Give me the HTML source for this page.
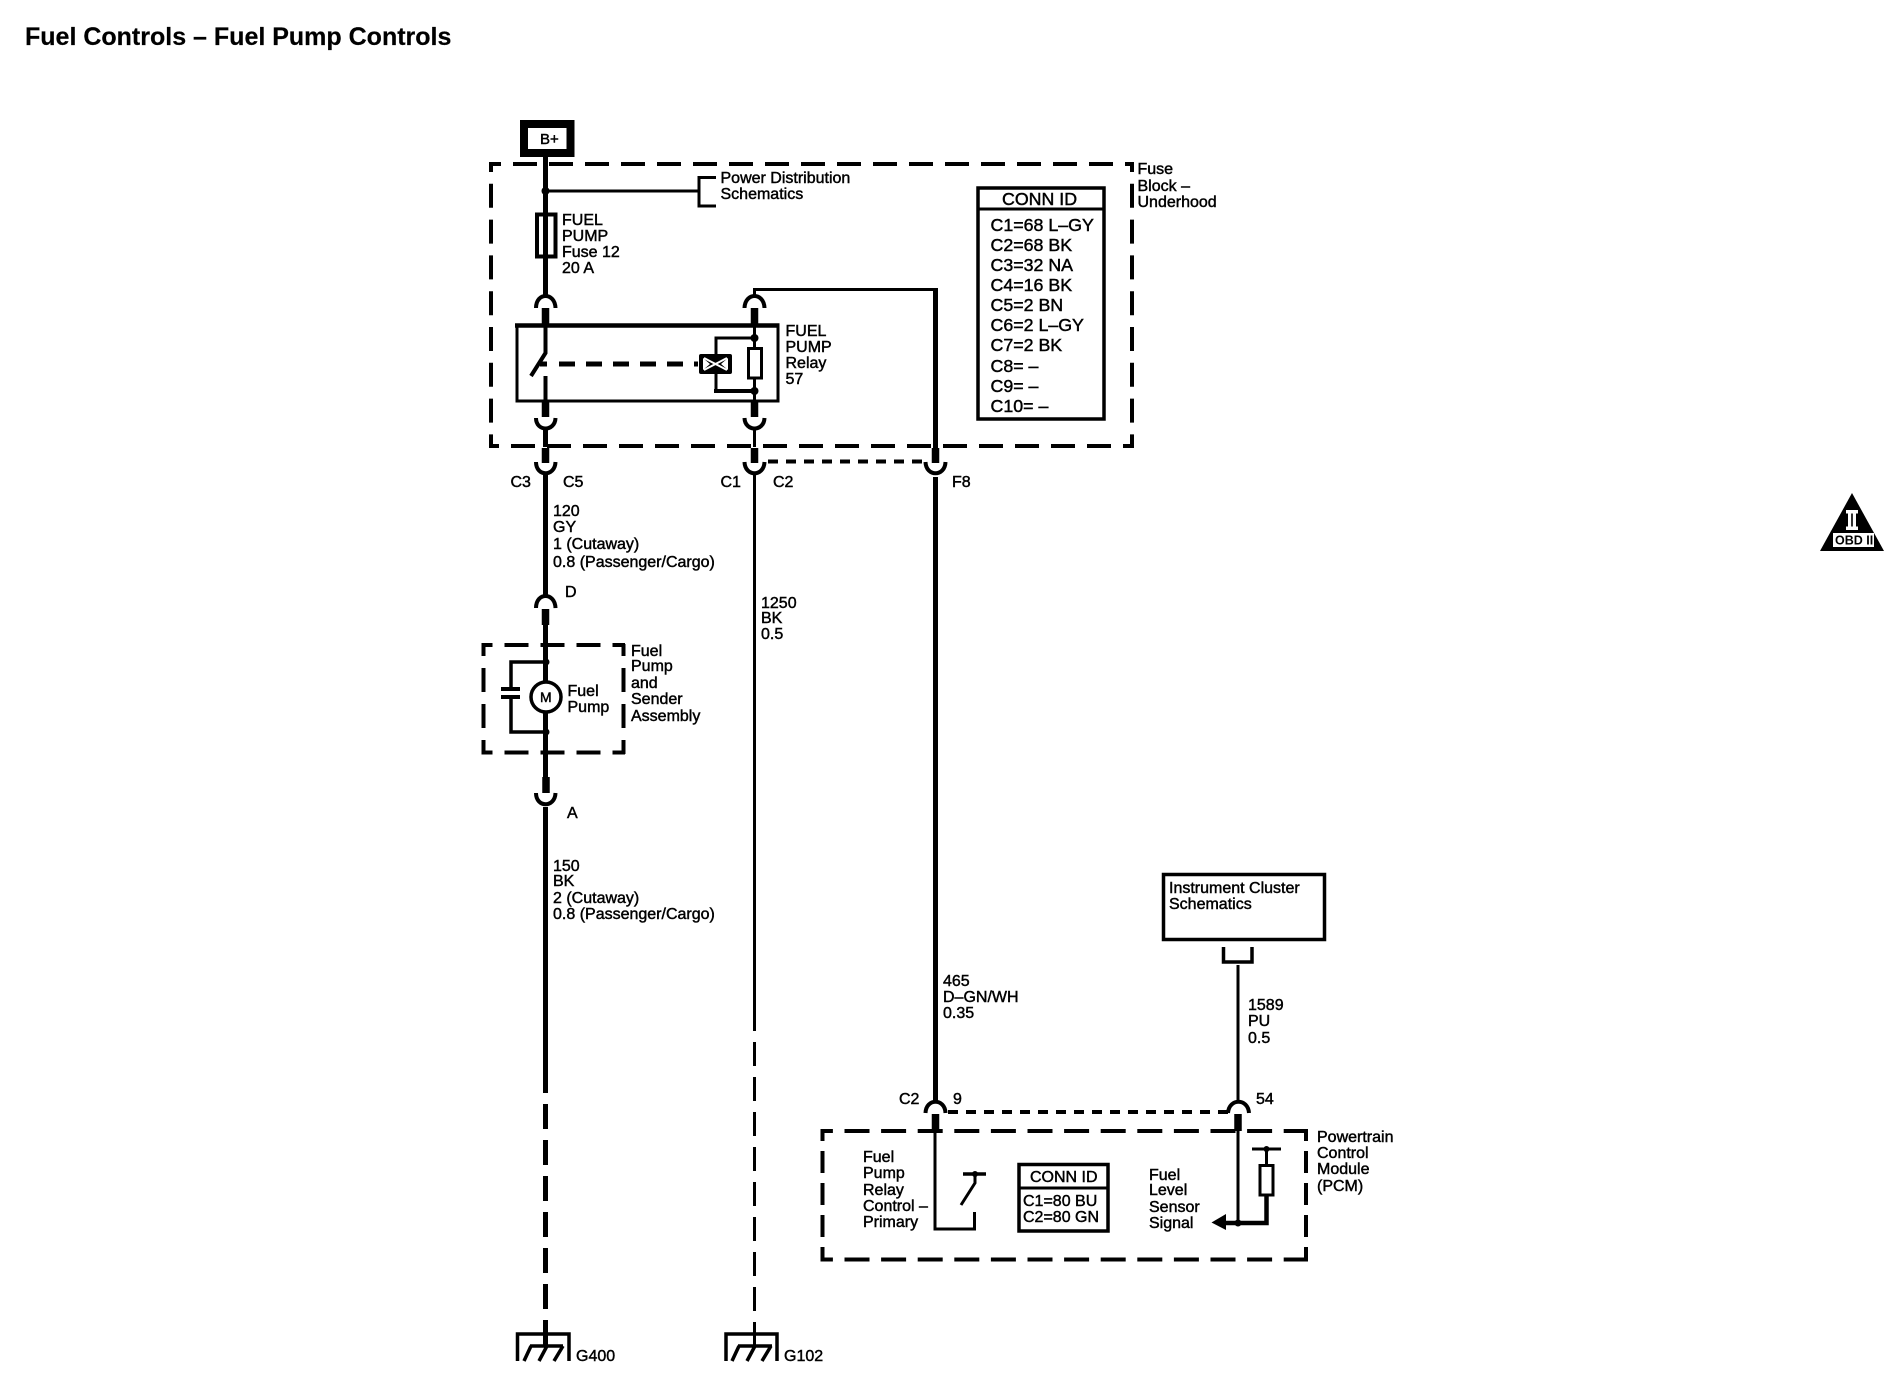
<!DOCTYPE html>
<html><head><meta charset="utf-8"><title>Fuel Controls</title>
<style>
html,body{margin:0;padding:0;background:#fff;width:1900px;height:1392px;overflow:hidden}
svg{display:block}
text{font-family:"Liberation Sans",sans-serif;font-size:16px;fill:#000;stroke:#000;stroke-width:.45}
.b{font-size:17.8px}
.w,.t,.s,.a,.d,.d2{fill:none;stroke:#000}
.w{stroke-width:5}.t{stroke-width:3}.s{stroke-width:7.5}.a{stroke-width:4}
.d{stroke-width:4}
.d2{stroke-width:4;stroke-dasharray:10 8}
</style></head><body>
<svg width="1900" height="1392" viewBox="0 0 1900 1392" xmlns="http://www.w3.org/2000/svg">
<text x="25" y="45" style="font-size:25px;font-weight:bold;stroke-width:.2">Fuel Controls – Fuel Pump Controls</text>

<!-- B+ -->
<rect x="524" y="124" width="46.5" height="29" fill="none" stroke="#000" stroke-width="8"/>
<text x="540" y="144" style="font-size:15px">B+</text>

<!-- fuse block -->
<path class="d" stroke-dasharray="24 12" stroke-dashoffset="12" d="M489 164H1134"/>
<path class="d" stroke-dasharray="24 12" stroke-dashoffset="14" d="M489 446H1134"/>
<path class="d" stroke-dasharray="24 11.8" stroke-dashoffset="14" d="M491 162V448"/>
<path class="d" stroke-dasharray="24 11.8" stroke-dashoffset="14" d="M1132 162V448"/>
<text x="1137.5" y="174">Fuse</text><text x="1137.5" y="191">Block –</text><text x="1137.5" y="207">Underhood</text>

<path class="w" d="M545.5 157V297"/>
<circle cx="545.5" cy="191" r="4"/>
<path class="t" d="M546 191H699M716 177.5H699V206H716"/>
<text x="720.5" y="183">Power Distribution</text><text x="720.5" y="199">Schematics</text>
<rect x="537" y="214.5" width="18.5" height="42" fill="#fff" stroke="#000" stroke-width="4"/>
<path class="w" d="M545.5 214V257"/>
<text x="562" y="225">FUEL</text><text x="562" y="241">PUMP</text><text x="562" y="257">Fuse 12</text><text x="562" y="273">20 A</text>

<!-- connectors fuse block top -->
<path class="a" d="M536 308C536 292 555 292 555.5 308"/>
<path class="a" d="M744.5 308C745 292 764 292 764.5 308"/>
<path class="s" d="M545.5 308V326M754.5 308V326"/>
<path class="t" d="M754.5 297V289.5H935.5"/>
<path class="w" d="M935.5 288V460"/>

<!-- relay -->
<path fill="none" stroke="#000" stroke-width="3" d="M517 326V401H778V326"/>
<path fill="none" stroke="#000" stroke-width="4.5" d="M515 325.5H779.5"/>
<path fill="none" stroke="#000" stroke-width="4" d="M545.5 326V353L531 376M545.5 376V402"/>
<path class="t" d="M754.5 326V402"/>
<path fill="none" stroke="#000" stroke-width="5" stroke-dasharray="16 11" d="M559 364H698"/>
<path fill="none" stroke="#000" stroke-width="5" d="M540 364H547"/>
<rect x="699" y="354" width="33" height="20" rx="2" fill="#000"/>
<path fill="none" stroke="#fff" stroke-width="2" d="M704 358L727 370M727 358L704 370"/>
<path fill="#fff" d="M703 358L710 364L703 370ZM728 358L721 364L728 370Z"/>
<path class="t" d="M716 354V338H754M716 374V391"/>
<path fill="none" stroke="#000" stroke-width="4" d="M714 391H754"/>
<circle cx="754.5" cy="338" r="4"/><circle cx="754.5" cy="391" r="4"/>
<rect x="748.5" y="348.5" width="13" height="29.5" fill="#fff" stroke="#000" stroke-width="3"/>
<text x="785.5" y="336">FUEL</text><text x="785.5" y="352">PUMP</text><text x="785.5" y="368">Relay</text><text x="785.5" y="384">57</text>

<!-- lower connectors fuse block -->
<path class="s" d="M545.5 402V417M754.5 402V417"/>
<path class="a" d="M536 418C536 432 555 432 555.5 418"/>
<path class="a" d="M744.5 418C745 432 764 432 764.5 418"/>
<path class="w" d="M545.5 428V447"/>
<path class="t" d="M754.5 428V447"/>
<path class="s" d="M545.5 448V463M754.5 448V463M935.5 448V463"/>
<path class="a" d="M536 462C536 477 555 477 555.5 462"/>
<path class="a" d="M744.5 462C745 477 764 477 764.5 462"/>
<path class="a" d="M925.5 462C926 477 945 477 945.5 462"/>
<path class="d2" d="M768 461.5H922"/>
<text x="510.5" y="487">C3</text><text x="563" y="487">C5</text>
<text x="720.5" y="487">C1</text><text x="773" y="487">C2</text><text x="952" y="487">F8</text>

<!-- CONN ID -->
<rect x="978" y="188" width="126" height="231" fill="#fff" stroke="#000" stroke-width="3.5"/>
<path class="t" d="M978 209H1104"/>
<text class="b" x="1002" y="205">CONN ID</text>
<text class="b" x="990.5" y="231">C1=68 L–GY</text>
<text class="b" x="990.5" y="251">C2=68 BK</text>
<text class="b" x="990.5" y="271">C3=32 NA</text>
<text class="b" x="990.5" y="291">C4=16 BK</text>
<text class="b" x="990.5" y="311">C5=2 BN</text>
<text class="b" x="990.5" y="331">C6=2 L–GY</text>
<text class="b" x="990.5" y="351">C7=2 BK</text>
<text class="b" x="990.5" y="372">C8= –</text>
<text class="b" x="990.5" y="392">C9= –</text>
<text class="b" x="990.5" y="412">C10= –</text>

<!-- wire 1 -->
<path class="w" d="M545.5 473V598"/>
<text x="553" y="516">120</text><text x="553" y="532">GY</text><text x="553" y="549">1 (Cutaway)</text><text x="553" y="567">0.8 (Passenger/Cargo)</text>
<text x="565" y="597">D</text>
<path class="a" d="M536 608C536 592 555 592 555.5 608"/>
<path class="s" d="M545.5 609V625"/>
<path class="w" d="M545.5 625V681M545.5 713V777"/>

<!-- pump assembly -->
<path class="d" stroke-dasharray="24 12" stroke-dashoffset="13" d="M481.5 645H625M481.5 752.5H625"/>
<path class="d" stroke-dasharray="24 12" stroke-dashoffset="12" d="M483.5 644V754M623.5 644V754"/>
<path fill="none" stroke="#000" stroke-width="3.5" d="M546 662H511V689M511 697V732H546"/>
<path fill="none" stroke="#000" stroke-width="4" d="M501 689H520M501 697H520"/>
<circle cx="546" cy="662" r="3.5"/><circle cx="546" cy="732" r="3.5"/>
<circle cx="546" cy="697" r="15" fill="#fff" stroke="#000" stroke-width="3.5"/>
<text x="540" y="702" style="font-size:14px">M</text>
<text x="567.5" y="696">Fuel</text><text x="567.5" y="712">Pump</text>
<text x="631" y="656">Fuel</text><text x="631" y="671">Pump</text><text x="631" y="688">and</text><text x="631" y="704">Sender</text><text x="631" y="721">Assembly</text>

<path class="s" d="M546 777V793"/>
<path class="a" d="M536 793C536 808 555 808 555.5 793"/>
<text x="567" y="818">A</text>
<path class="w" d="M545.5 807V1093"/>
<path class="w" stroke-dasharray="25 11" d="M545.5 1104V1350"/>
<text x="553" y="871">150</text><text x="553" y="886">BK</text><text x="553" y="903">2 (Cutaway)</text><text x="553" y="919">0.8 (Passenger/Cargo)</text>

<!-- wire 2 -->
<path class="t" d="M754.5 473V1031"/>
<path class="t" stroke-dasharray="24 11" d="M754.5 1042V1350"/>
<text x="761" y="608">1250</text><text x="761" y="623">BK</text><text x="761" y="639">0.5</text>

<!-- grounds -->
<g fill="none" stroke="#000">
<path stroke-width="3.5" d="M517.5 1361V1334H569V1361"/>
<path stroke-width="3.5" d="M530 1346H563M531 1346L524 1361M547 1346L539 1361M563 1346L554 1361"/>
<path stroke-width="3.5" d="M726 1361V1334H777V1361"/>
<path stroke-width="3.5" d="M738 1346H772M739 1346L732 1361M755 1346L747 1361M771 1346L762 1361"/>
</g>
<text x="576" y="1361" style="font-size:16px">G400</text><text x="784" y="1361" style="font-size:16px">G102</text>

<!-- wire 3 -->
<path class="w" d="M935.5 477V1102"/>
<text x="943" y="986">465</text><text x="943" y="1002">D–GN/WH</text><text x="943" y="1018">0.35</text>

<!-- instrument cluster -->
<rect x="1163.5" y="874.5" width="161" height="65" fill="#fff" stroke="#000" stroke-width="3.5"/>
<text x="1169" y="893">Instrument Cluster</text><text x="1169" y="909">Schematics</text>
<path fill="none" stroke="#000" stroke-width="3.5" d="M1223.5 947V962H1252V947"/>
<path class="t" d="M1238 965V1103"/>
<text x="1248" y="1010">1589</text><text x="1248" y="1026">PU</text><text x="1248" y="1043">0.5</text>

<!-- PCM connectors -->
<text x="899" y="1104">C2</text><text x="953" y="1104">9</text><text x="1256" y="1104">54</text>
<path class="a" d="M925.5 1113C926 1098 945 1098 945.5 1113"/>
<path class="a" d="M1228 1113C1229 1098 1248 1098 1249 1113"/>
<path class="d2" d="M948 1112H1228"/>
<path class="s" d="M935.5 1114V1131M1238 1114V1131"/>

<!-- PCM -->
<path class="d" stroke-dasharray="25 11.6" stroke-dashoffset="12.6" d="M820.5 1131H1308M820.5 1259.5H1308"/>
<path class="d" stroke-dasharray="22 10" stroke-dashoffset="10" d="M822.5 1129V1261M1306 1129V1261"/>
<path class="t" d="M935 1131V1229H974.5V1212"/>
<path class="t" d="M975 1174V1183L961 1205"/>
<path style="stroke-width:3.5" class="w" d="M963 1174H986"/>
<circle cx="975" cy="1174" r="3"/>
<text x="863" y="1162">Fuel</text><text x="863" y="1178">Pump</text><text x="863" y="1195">Relay</text><text x="863" y="1211">Control –</text><text x="863" y="1227">Primary</text>
<rect x="1019" y="1164.5" width="89" height="66.5" fill="#fff" stroke="#000" stroke-width="3.5"/>
<path class="t" d="M1019 1188H1108"/>
<text x="1030" y="1182">CONN ID</text>
<text x="1023" y="1206">C1=80 BU</text><text x="1023" y="1222">C2=80 GN</text>
<text x="1149" y="1180">Fuel</text><text x="1149" y="1195">Level</text><text x="1149" y="1212">Sensor</text><text x="1149" y="1228">Signal</text>
<path class="t" d="M1238 1131V1222"/>
<path fill="none" stroke="#000" stroke-width="4.5" d="M1225 1223H1266.5V1195"/>
<path d="M1211.5 1222.5L1226 1214V1230Z"/>
<circle cx="1238" cy="1223" r="3.5"/>
<rect x="1260" y="1165.5" width="13" height="29.5" fill="#fff" stroke="#000" stroke-width="3"/>
<path class="t" d="M1266.5 1165V1149M1252 1149H1281"/>
<circle cx="1266.5" cy="1149" r="3"/>
<text x="1317" y="1142">Powertrain</text><text x="1317" y="1158">Control</text><text x="1317" y="1174">Module</text><text x="1317" y="1191">(PCM)</text>

<!-- OBD II -->
<path d="M1852 493L1884 551H1820Z"/>
<rect x="1833" y="533" width="41" height="14" fill="#fff"/>
<path fill="#fff" d="M1846 510H1858V513.5H1856V526.5H1858V530H1846V526.5H1848V513.5H1846Z"/>
<path d="M1851.2 513.5h1.6v13h-1.6z"/>
<text x="1835" y="544.5" style="font-size:12.5px;font-weight:bold;stroke-width:0">OBD II</text>
</svg>
</body></html>
